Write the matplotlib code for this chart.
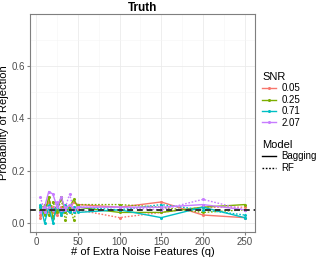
import matplotlib
matplotlib.use("Agg")
import matplotlib.pyplot as plt
from matplotlib.lines import Line2D

plt.rcParams['font.family'] = ['Liberation Sans', 'DejaVu Sans']

q = [5, 10, 15, 20, 25, 30, 35, 40, 45, 50, 100, 150, 200, 250]
snr_levels = ["0.05", "0.25", "0.71", "2.07"]
colors = ["#F8766D", "#7CAE00", "#00BFC4", "#C77CFF"]

bagging = {
    "0.05": [0.02, 0.05, 0.08, 0.04, 0.06, 0.03, 0.07, 0.05, 0.08, 0.07, 0.06, 0.08, 0.03, 0.02],
    "0.25": [0.06, 0.03, 0.10, 0.02, 0.05, 0.10, 0.04, 0.06, 0.09, 0.06, 0.04, 0.04, 0.06, 0.07],
    "0.71": [0.07, 0.00, 0.06, 0.00, 0.07, 0.03, 0.05, 0.04, 0.06, 0.04, 0.05, 0.02, 0.06, 0.02],
    "2.07": [0.04, 0.06, 0.12, 0.11, 0.06, 0.10, 0.05, 0.07, 0.05, 0.06, 0.06, 0.06, 0.07, 0.05],
}
rf = {
    "0.05": [0.03, 0.07, 0.04, 0.06, 0.03, 0.06, 0.05, 0.04, 0.06, 0.05, 0.02, 0.04, 0.06, 0.06],
    "0.25": [0.05, 0.07, 0.03, 0.08, 0.04, 0.09, 0.01, 0.07, 0.01, 0.07, 0.07, 0.06, 0.04, 0.05],
    "0.71": [0.06, 0.04, 0.07, 0.05, 0.06, 0.04, 0.07, 0.05, 0.04, 0.06, 0.05, 0.07, 0.05, 0.03],
    "2.07": [0.10, 0.04, 0.06, 0.05, 0.08, 0.05, 0.06, 0.11, 0.05, 0.06, 0.06, 0.05, 0.09, 0.05],
}
nominal = 0.05

W, H = 322, 258
fig = plt.figure(figsize=(W / 100, H / 100), dpi=100)
ax = fig.add_axes([30 / W, 26 / H, 225 / W, 218 / H])

for lvl, c in zip(snr_levels, colors):
    ax.plot(q, bagging[lvl], color=c, lw=1.0, ls='-', marker='o', ms=1.2, zorder=3)
    ax.plot(q, rf[lvl], color=c, lw=1.0, ls=(0, (1.2, 1.2)), marker='o', ms=1.2, zorder=3)

ax.axhline(nominal, color='#333333', lw=1.4, ls=(0, (3, 2)), zorder=4)

ax.set_xlim(-7.5, 262.5)
ax.set_ylim(-0.035, 0.80)
ax.set_xticks([0, 50, 100, 150, 200, 250])
ax.set_yticks([0.0, 0.2, 0.4, 0.6])
ax.set_yticklabels(["0.0", "0.2", "0.4", "0.6"])
ax.set_xticks([25, 75, 125, 175, 225], minor=True)
ax.set_yticks([0.1, 0.3, 0.5, 0.7], minor=True)
ax.grid(True, which='major', color='#EBEBEB', lw=0.6)
ax.grid(True, which='minor', color='#F5F5F5', lw=0.4)
ax.set_axisbelow(True)
for s in ax.spines.values():
    s.set_color('#7F7F7F')
    s.set_linewidth(0.8)
ax.tick_params(which='major', length=2.5, color='#7F7F7F', labelsize=7, labelcolor='#4D4D4D', pad=1.2)
ax.tick_params(which='minor', length=0)
ax.set_xlabel("# of Extra Noise Features (q)", fontsize=8)
ax.set_ylabel("Probability of Rejection", fontsize=8)
ax.xaxis.set_label_coords(0.5, -0.068)
ax.yaxis.set_label_coords(-0.094, 0.5)
ax.set_title("Truth", fontsize=8.5, fontweight='bold', pad=2.5)

snr_handles = [Line2D([], [], color=c, lw=1.0, marker='o', ms=1.2) for c in colors]
leg1 = fig.legend(snr_handles, snr_levels, title="SNR", loc='upper left',
                  bbox_to_anchor=(262 / W, 1 - 72 / H), frameon=False, fontsize=7,
                  title_fontsize=8, handlelength=1.4, handletextpad=0.6,
                  labelspacing=0.15, borderaxespad=0, borderpad=0)
leg1._legend_box.align = "left"
model_handles = [Line2D([], [], color='black', lw=1.0, ls='-'),
                 Line2D([], [], color='black', lw=1.0, ls=(0, (1.2, 1.2)))]
leg2 = fig.legend(model_handles, ["Bagging", "RF"], title="Model", loc='upper left',
                  bbox_to_anchor=(262 / W, 1 - 140 / H), frameon=False, fontsize=7,
                  title_fontsize=8, handlelength=1.4, handletextpad=0.6,
                  labelspacing=0.15, borderaxespad=0, borderpad=0)
leg2._legend_box.align = "left"

fig.savefig("out.png", dpi=100)
